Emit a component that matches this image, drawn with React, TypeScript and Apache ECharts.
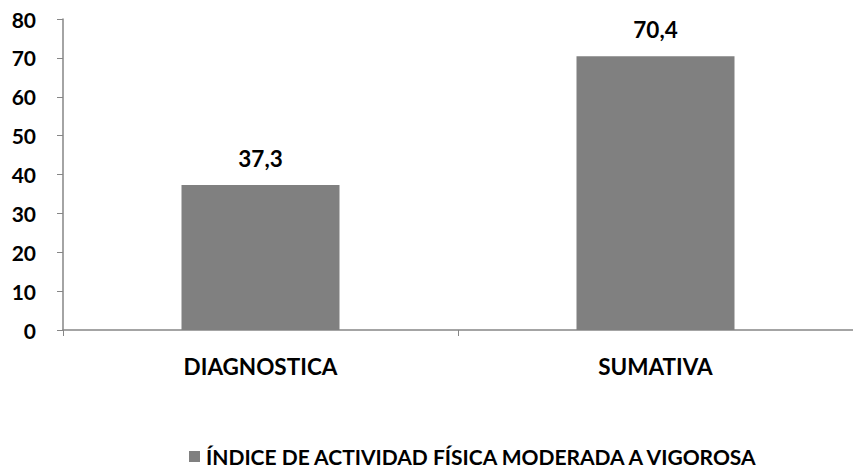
import React, { useEffect, useRef } from "react";
import * as echarts from "echarts";

const categories = ["DIAGNOSTICA", "SUMATIVA"];
const values = [37.3, 70.4];
const seriesName = "ÍNDICE DE ACTIVIDAD FÍSICA MODERADA A VIGOROSA";

export default function App() {
  const ref = useRef<HTMLDivElement>(null);
  useEffect(() => {
    if (!ref.current) return;
    const chart = echarts.init(ref.current, null, { renderer: "svg" });
    const font = "Lato, 'Open Sans', sans-serif";
    chart.setOption({
      animation: false,
      textStyle: { fontFamily: font },
      grid: { left: 63, top: 19, width: 800, bottom: 140, containLabel: false },
      legend: {
        left: 189,
        top: 446,
        padding: 0,
        itemWidth: 11,
        itemHeight: 11,
        icon: "rect",
        itemGap: 6,
        textStyle: { fontFamily: font, fontWeight: "bold", fontSize: 21, color: "#000", padding: [0, 0, 0, 1] },
        data: [seriesName],
      },
      xAxis: {
        type: "category",
        data: categories,
        axisLine: { lineStyle: { color: "#868686", width: 1.5 } },
        axisTick: { show: true, length: 6, lineStyle: { color: "#868686" } },
        axisLabel: { margin: 25, fontFamily: font, fontWeight: "bold", fontSize: 22.5, color: "#000" },
      },
      yAxis: {
        type: "value",
        min: 0,
        max: 80,
        interval: 10,
        splitLine: { show: false },
        axisLine: { show: true, lineStyle: { color: "#868686", width: 1.5 } },
        axisTick: { show: true, length: 6, lineStyle: { color: "#868686" } },
        axisLabel: { margin: 27, fontFamily: font, fontWeight: "bold", fontSize: 21, color: "#000" },
      },
      series: [
        {
          name: seriesName,
          type: "bar",
          data: values,
          barWidth: "40%",
          itemStyle: { color: "#808080" },
          label: {
            show: true,
            position: "top",
            distance: 15,
            fontFamily: font,
            fontWeight: "bold",
            fontSize: 22.5,
            color: "#000",
            formatter: (p: any) => String(p.value).replace(".", ","),
          },
        },
      ],
    });
    return () => chart.dispose();
  }, []);
  return <div ref={ref} style={{ width: 853, height: 470, position: "absolute", left: 0, top: 0 }} />;
}
